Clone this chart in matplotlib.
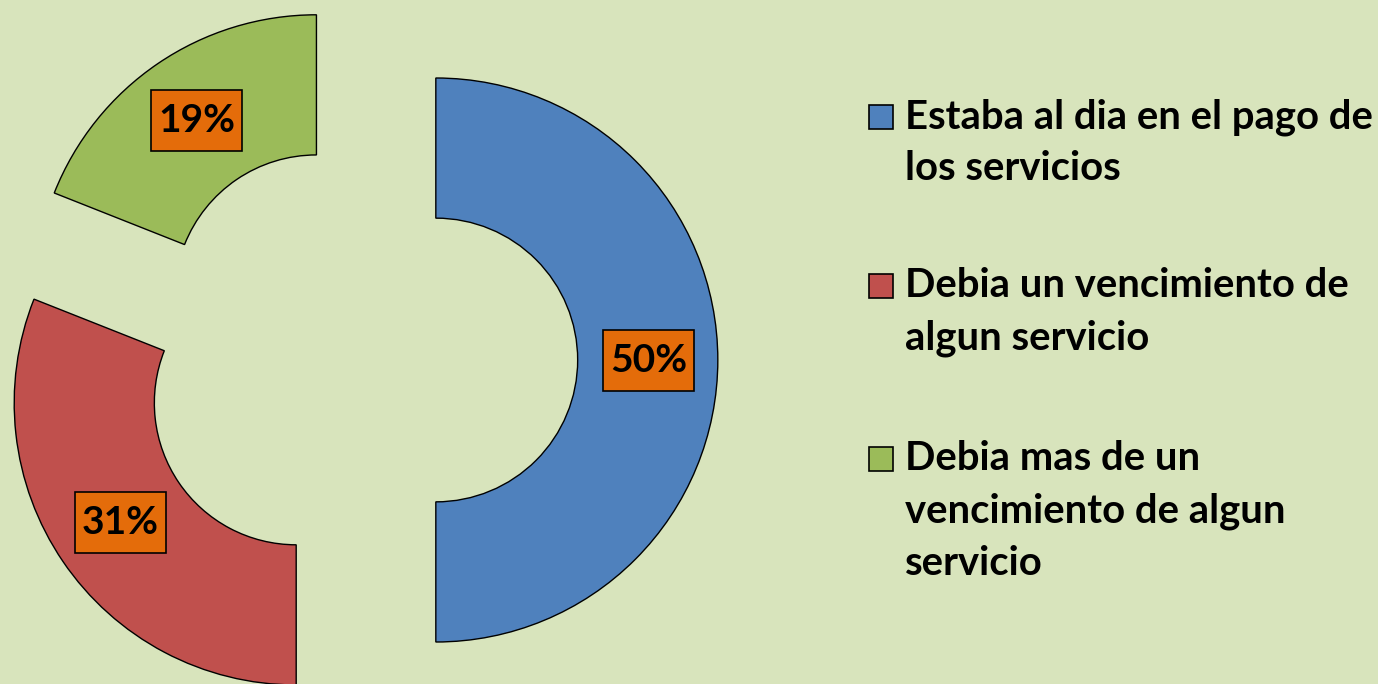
import matplotlib
matplotlib.use("Agg")
import matplotlib.pyplot as plt
from matplotlib.patches import Rectangle

# ---- data ----
categories = [
    "Estaba al dia en el pago de\nlos servicios",
    "Debia un vencimiento de\nalgun servicio",
    "Debia mas de un\nvencimiento de algun\nservicio",
]
values = [50, 31, 19]
colors = ["#4F81BD", "#C0504D", "#9BBB59"]

BG = "#D8E4BC"
ORANGE = "#E46C0A"
FONT = "Lato"

W, H = 1378, 684
R_PX = 282.0           # outer radius in pixels
CX, CY = 359.4, 360.0  # pie centre in pixels (from top-left)

fig = plt.figure(figsize=(W / 100, H / 100), dpi=100, facecolor=BG)
ax = fig.add_axes([0, 0, 1, 1])
ax.set_facecolor(BG)
ax.set_aspect("equal")
ax.axis("off")

wedges, texts, autotexts = ax.pie(
    values,
    colors=colors,
    startangle=90,
    counterclock=False,
    radius=1.0,
    explode=[0.271] * len(values),
    wedgeprops=dict(width=0.497, edgecolor="black", linewidth=1.0),
    autopct="%1.0f%%",
    pctdistance=0.755,
    textprops=dict(fontsize=28, fontweight="bold", family=FONT, color="black"),
    frame=False,
)
ax.set_xlim(-CX / R_PX, (W - CX) / R_PX)
ax.set_ylim(-(H - CY) / R_PX, CY / R_PX)

bw, bh = 91 / R_PX, 61 / R_PX
for t in autotexts:
    x, y = t.get_position()
    ax.add_patch(Rectangle((x - bw / 2, y - bh / 2), bw, bh, facecolor=ORANGE,
                           edgecolor="black", linewidth=1.2, zorder=5))
    t.set_zorder(6)
    t.set_va("center")
    t.set_ha("center")

# ---- legend (manual, pixel-positioned) ----
first_baselines = [128, 297, 470]
line_gap = 52.5
sq = 24
for lab, col, yb in zip(categories, colors, first_baselines):
    fig.patches.append(Rectangle((869 / W, 1 - (yb + 1) / H), sq / W, sq / H,
                                 transform=fig.transFigure, facecolor=col,
                                 edgecolor="black", linewidth=1.2))
    for i, line in enumerate(lab.split("\n")):
        fig.text(905 / W, 1 - (yb + i * line_gap) / H, line, ha="left",
                 va="baseline", fontsize=28.8, fontweight="bold", family=FONT,
                 color="black")

fig.savefig("out.png", dpi=100, facecolor=BG)
